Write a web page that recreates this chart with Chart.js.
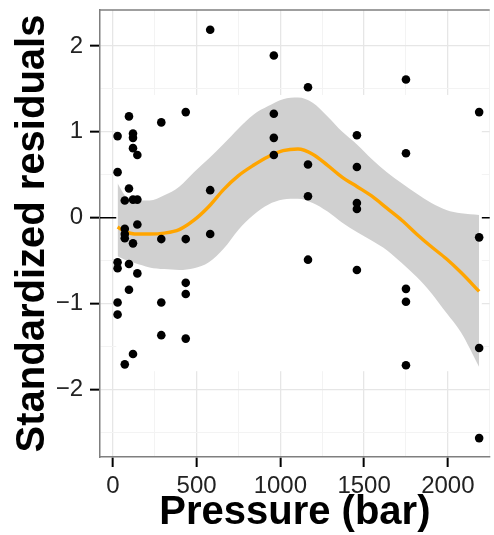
<!DOCTYPE html>
<html>
<head>
<meta charset="utf-8">
<script src="https://cdn.jsdelivr.net/npm/chart.js@4"></script>
<style>
  html, body { margin: 0; padding: 0; background: #fff; }
  #wrap { width: 494px; height: 535px; overflow: hidden; }
</style>
</head>
<body>
<div id="wrap"><canvas id="residChart" width="494" height="535"></canvas></div>
<script>
// observed residuals, grouped by pressure column
const pressure = [
    28, 28, 28, 28, 28, 28,
    71, 71, 71, 71, 71,
    96, 96, 96, 96,
    120, 120, 120, 120, 120, 120,
    146, 146, 146, 146,
    289, 289, 289, 289,
    435, 435, 435, 435, 435,
    581, 581, 581,
    961, 961, 961, 961,
    1165, 1165, 1165, 1165,
    1457, 1457, 1457, 1457, 1457,
    1750, 1750, 1750, 1750, 1750,
    2187, 2187, 2187, 2187
];
const residuals = [
    0.95, 0.53, -0.52, -0.59, -0.99, -1.13,
    0.20, -0.13, -0.19, -0.24, -1.71,
    1.18, 0.34, -0.54, -0.84,
    0.98, 0.93, 0.81, 0.21, -0.30, -1.59,
    0.73, 0.21, -0.08, -0.65,
    1.11, -0.25, -0.99, -1.37,
    1.23, -0.25, -0.76, -0.89, -1.41,
    2.19, 0.32, -0.19,
    1.89, 1.21, 0.93, 0.73,
    1.52, 0.62, 0.25, -0.49,
    0.96, 0.59, 0.17, 0.10, -0.61,
    1.61, 0.75, -0.83, -0.98, -1.72,
    1.23, -0.23, -1.52, -2.57
];

// loess smooth + confidence band
const smoothX = [28, 71, 130, 219, 307, 396, 484, 573, 662, 750, 839, 927, 1016,
    1105, 1193, 1282, 1370, 1459, 1547, 1636, 1725, 1813, 1902, 1991, 2079, 2187];
const smoothFit = [-0.11, -0.16, -0.19, -0.19, -0.18, -0.14, -0.03, 0.13, 0.33, 0.49, 0.61, 0.71, 0.78,
    0.80, 0.74, 0.61, 0.47, 0.36, 0.25, 0.11, -0.03, -0.19, -0.34, -0.48, -0.64, -0.86];
const smoothHi = [0.40, 0.26, 0.20, 0.20, 0.26, 0.36, 0.53, 0.69, 0.86, 1.04, 1.20, 1.30, 1.38,
    1.40, 1.34, 1.18, 1.00, 0.85, 0.68, 0.53, 0.40, 0.28, 0.17, 0.09, 0.05, 0.03];
const smoothLo = [-0.45, -0.49, -0.53, -0.58, -0.60, -0.61, -0.59, -0.52, -0.36, -0.14, 0.03, 0.15, 0.21,
    0.22, 0.17, 0.07, -0.06, -0.17, -0.27, -0.38, -0.53, -0.69, -0.88, -1.11, -1.34, -1.74];

const xTicks = [0, 500, 1000, 1500, 2000];
const yTicks = [-2, -1, 0, 1, 2];

const FONT = "'Liberation Sans', Arial, sans-serif";
const toXY = (xs, ys) => xs.map((x, i) => ({ x: x, y: ys[i] }));

// grid first, then the zero line and the white patch, then the data on top
const panelPlugin = {
    id: "panel",
    beforeDatasetsDraw(chart) {
        const { ctx, chartArea, scales } = chart;
        const y0 = scales.y.getPixelForValue(0);
        ctx.save();
        ctx.strokeStyle = "#000";
        ctx.lineWidth = 1.5;
        ctx.beginPath();
        ctx.moveTo(chartArea.left, y0);
        ctx.lineTo(chartArea.right, y0);
        ctx.stroke();
        const l = scales.x.getPixelForValue(20), r = scales.x.getPixelForValue(2203);
        const t = scales.y.getPixelForValue(1.43), b = scales.y.getPixelForValue(-1.79);
        ctx.fillStyle = "#fff";
        ctx.fillRect(l, t, r - l, b - t);
        ctx.restore();
    },
    afterDraw(chart) {
        const { ctx, chartArea } = chart;
        ctx.save();
        ctx.strokeStyle = "#7f7f7f";
        ctx.lineWidth = 1.5;
        ctx.beginPath();
        ctx.moveTo(chartArea.left, chartArea.top);
        ctx.lineTo(chartArea.right, chartArea.top);
        ctx.stroke();
        ctx.restore();
    }
};

const isMajor = (v, list) => list.includes(v);

new Chart(document.getElementById("residChart").getContext("2d"), {
    type: "scatter",
    data: {
        datasets: [
            {
                type: "line",
                data: toXY(smoothX, smoothHi),
                fill: "+1",
                backgroundColor: "#d0d0d0",
                borderWidth: 0,
                pointRadius: 0,
                cubicInterpolationMode: "monotone",
                order: 3,
            },
            {
                type: "line",
                data: toXY(smoothX, smoothLo),
                fill: false,
                borderWidth: 0,
                pointRadius: 0,
                cubicInterpolationMode: "monotone",
                order: 3,
            },
            {
                type: "line",
                data: toXY(smoothX, smoothFit),
                borderColor: "#ffa500",
                borderWidth: 3.4,
                fill: false,
                pointRadius: 0,
                cubicInterpolationMode: "monotone",
                order: 2,
            },
            {
                data: toXY(pressure, residuals),
                backgroundColor: "#000",
                borderWidth: 0,
                pointRadius: 4.3,
                order: 1,
            },
        ],
    },
    options: {
        responsive: false,
        animation: false,
        layout: { padding: { top: 10, right: 0, left: 0, bottom: 0 } },
        plugins: { legend: { display: false }, tooltip: { enabled: false } },
        scales: {
            x: {
                type: "linear",
                min: -77,
                max: 2250,
                afterFit(scale) {
                    scale.height = 78;
                    scale.paddingLeft = 0;
                    scale.paddingRight = 0;
                },
                border: { display: true, color: "#7f7f7f", width: 1.5 },
                grid: {
                    color: (c) => isMajor(c.tick.value, xTicks) ? "#e6e6e6" : "#f3f3f3",
                    lineWidth: (c) => isMajor(c.tick.value, xTicks) ? 1.3 : 1,
                    tickColor: (c) => isMajor(c.tick.value, xTicks) ? "#000" : "rgba(0,0,0,0)",
                    tickWidth: 2,
                    tickLength: 10,
                },
                ticks: {
                    stepSize: 250,
                    includeBounds: false,
                    maxTicksLimit: 30,
                    autoSkip: false,
                    maxRotation: 0,
                    padding: 5,
                    color: "#222",
                    font: { family: FONT, size: 24 },
                    callback: (v) => isMajor(v, xTicks) ? String(v) : "",
                },
                title: {
                    display: true,
                    text: "Pressure (bar)",
                    color: "#000",
                    font: { family: FONT, size: 40, weight: "bold", lineHeight: 1 },
                    padding: { top: 0, bottom: 2 },
                },
            },
            y: {
                type: "linear",
                min: -2.79,
                max: 2.42,
                afterFit(scale) {
                    scale.width = 100;
                    scale.paddingTop = 0;
                    scale.paddingBottom = 0;
                },
                border: { display: true, color: "#7f7f7f", width: 1.5 },
                grid: {
                    color: (c) => isMajor(c.tick.value, yTicks) ? "#e6e6e6" : "#f3f3f3",
                    lineWidth: (c) => isMajor(c.tick.value, yTicks) ? 1.3 : 1,
                    tickColor: (c) => isMajor(c.tick.value, yTicks) ? "#000" : "rgba(0,0,0,0)",
                    tickWidth: 2,
                    tickLength: 10,
                },
                ticks: {
                    stepSize: 0.5,
                    includeBounds: false,
                    maxTicksLimit: 30,
                    autoSkip: false,
                    padding: 7,
                    color: "#222",
                    font: { family: FONT, size: 24 },
                    callback: (v) => isMajor(v, yTicks) ? String(v).replace("-", "\u2212") : "",
                },
                title: {
                    display: true,
                    text: "Standardized residuals",
                    color: "#000",
                    font: { family: FONT, size: 40, weight: "bold", lineHeight: 1 },
                    padding: { top: 13, bottom: 0 },
                },
            },
        },
    },
    plugins: [panelPlugin],
});
</script>
</body>
</html>
